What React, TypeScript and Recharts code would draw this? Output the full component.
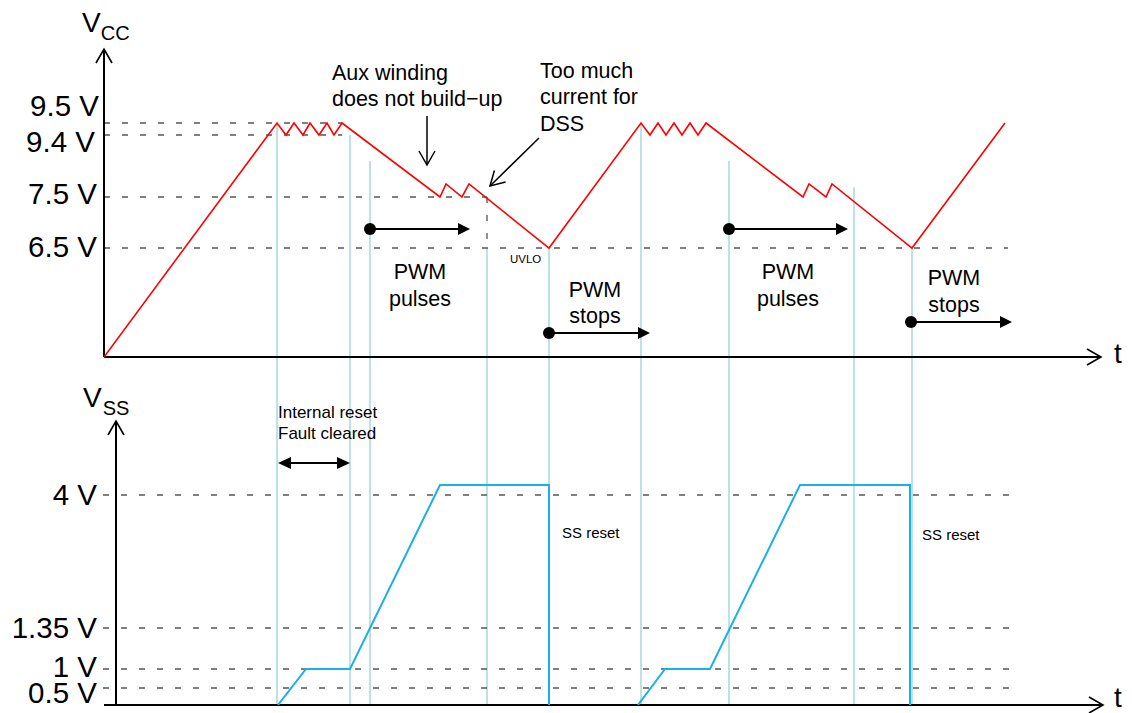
import { LineChart, Line, XAxis, YAxis, ReferenceLine, ReferenceDot } from 'recharts'

const FONT = '"Liberation Sans", Arial, Helvetica, sans-serif'

// schematic time axis, arbitrary units 0..100
const VCC_T = [0, 17.3, 18.2, 19.0, 19.9, 20.6, 21.5, 22.3, 23.0, 23.8, 33.6, 34.2, 35.8, 36.5, 44.5,
  53.7, 54.6, 55.4, 56.2, 57.0, 57.8, 58.6, 59.4, 60.2, 69.9, 70.5, 72.2, 72.8, 80.8, 90.1]
const VCC_V = [0, 9.5, 9.4, 9.5, 9.4, 9.5, 9.4, 9.5, 9.4, 9.5, 7.5, 7.9, 7.5, 7.9, 6.5,
  9.5, 9.4, 9.5, 9.4, 9.5, 9.4, 9.5, 9.4, 9.5, 7.5, 7.9, 7.5, 7.9, 6.5, 9.5]

const VSS_T = [17.4, 20.2, 24.6, 33.6, 44.5, 44.5, 49, 53.4, 56.1, 60.6, 69.6, 80.6, 80.6]
const VSS_V: (number | null)[] = [0, 1, 1, 4.2, 4.2, 0, null, 0, 1, 1, 4.2, 4.2, 0]

// event markers (light blue): time and the Vcc level where they start
const MARK_T = [17.3, 24.6, 26.6, 38.3, 44.5, 53.7, 62.5, 75.0, 80.8]
const MARK_FROM_V = [9.5, 9.4, 8.6, 6.5, 6.5, 9.5, 8.6, 7.8, 6.5]

const VCC_TICKS = [9.5, 9.4, 7.5, 6.5]
const VCC_TICK_LABELS = ['9.5 V', '9.4 V', '7.5 V', '6.5 V']
const VSS_TICKS = [4, 1.35, 1, 0.5]
const VSS_TICK_LABELS = ['4 V', '1.35 V', '1 V', '0.5 V']

// PWM arrows: start / end time, and level (above the Vcc axis)
const PWM_START = [26.6, 44.5, 62.5, 80.7]
const PWM_END = [36.6, 54.6, 74.4, 90.8]

// the drawing is not to scale: the axes are piecewise-linear
const VCC_STOPS_V = [0, 6.5, 7.5, 9.4, 9.5]
const VCC_STOPS_H = [0, 109, 160, 222, 234]
const VSS_STOPS_V = [0, 0.5, 1, 1.35, 4]
const VSS_STOPS_H = [0, 17, 36, 77, 210]
const VCC_BASE = 348

const warp = (sv: number[], sh: number[]) => (v: number) => {
  let i = 0
  while (i < sv.length - 2 && v > sv[i + 1]) i++
  return sh[i] + ((v - sv[i]) * (sh[i + 1] - sh[i])) / (sv[i + 1] - sv[i])
}
const vccH = warp(VCC_STOPS_V, VCC_STOPS_H)
const vssH = warp(VSS_STOPS_V, VSS_STOPS_H)
const vccY = (v: number) => VCC_BASE + vccH(v)
const vssY = (v: number) => vssH(v)

const vccData = VCC_T.map((t, i) => ({ t, y: vccY(VCC_V[i]) }))
const vssData = VSS_T.map((t, i) => ({ t, y: VSS_V[i] == null ? null : vssY(VSS_V[i] as number) }))

const Txt = ({ cx, cy, lines, size = 21.5, anchor = 'start', lh = 26.5 }: any) => (
  <text x={cx} y={cy} fontSize={size} fontFamily={FONT} textAnchor={anchor} fill="#000">
    {lines.map((s: string, i: number) => (
      <tspan key={i} x={cx} dy={i === 0 ? 0 : lh}>{s}</tspan>
    ))}
  </text>
)

const Head = ({ cx, cy, angle, len = 13, half = 7, filled = false, width = 1.5 }: any) => {
  const a = (angle * Math.PI) / 180
  const ux = Math.cos(a)
  const uy = Math.sin(a)
  const bx = cx - len * ux
  const by = cy - len * uy
  const p1 = `${bx - half * uy},${by + half * ux}`
  const p2 = `${bx + half * uy},${by - half * ux}`
  if (filled) return <polygon points={`${p1} ${cx},${cy} ${p2}`} fill="#000" />
  return <polyline points={`${p1} ${cx},${cy} ${p2}`} fill="none" stroke="#000" strokeWidth={width} />
}

const LVL_DX = [2, -2, 0, 0]
const VCC_LBL_DY = [-7, 16.5, 7, 9]
const VSS_LBL_DY = [10, 10, 8, 15]

const seg = (x1: number, y1: number, x2: number, y2: number) => [{ x: x1, y: y1 }, { x: x2, y: y2 }]

const Axis = ({ x1, y1, x2, y2, dir }: any) => (
  <>
    <ReferenceLine segment={seg(x1, y1, x2, y2)} stroke="#000" strokeWidth={2} ifOverflow="visible" />
    <ReferenceDot x={x2} y={y2} ifOverflow="visible"
      shape={(p: any) => <Head {...p} angle={dir} len={14} half={8} width={1.6} />} />
  </>
)

export default function App() {
  const dashed = { stroke: '#555', strokeWidth: 1.3, strokeDasharray: '6 12', ifOverflow: 'visible' as const }
  return (
    <div style={{ position: 'absolute', left: 0, top: 0, width: 1132, height: 713, background: '#fff' }}>
      <LineChart width={1132} height={713} margin={{ top: 45, right: 28, bottom: 8, left: 104 }}>
        <XAxis type="number" dataKey="t" domain={[0, 100]} allowDataOverflow hide />
        <YAxis type="number" domain={[0, 660]} allowDataOverflow hide />

        {/* light blue event markers */}
        {MARK_T.map((t, i) => (
          <ReferenceLine key={`m${i}`} segment={seg(t, vccY(MARK_FROM_V[i]), t, vssY(0))}
            stroke="#a9d7e0" strokeWidth={1.5} ifOverflow="visible" />
        ))}

        {/* Vcc level guides */}
        <ReferenceLine segment={seg(0, vccY(9.5), 23.8, vccY(9.5))} {...dashed} />
        <ReferenceLine segment={seg(0, vccY(9.4), 23.8, vccY(9.4))} {...dashed} />
        <ReferenceLine segment={seg(0, vccY(7.5), 38.3, vccY(7.5))} {...dashed} />
        <ReferenceLine segment={seg(38.3, vccY(7.5), 38.3, vccY(6.5))} {...dashed} />
        <ReferenceLine segment={seg(0, vccY(6.5), 90.4, vccY(6.5))} {...dashed} />
        {VSS_TICKS.map((v, i) => (
          <ReferenceLine key={`g${i}`} segment={seg(-0.1, vssY(v), 90.6, vssY(v))} {...dashed} />
        ))}

        {/* tick labels */}
        {VCC_TICKS.map((v, i) => (
          <ReferenceDot key={`vl${i}`} x={-0.7} y={vccY(v)} ifOverflow="visible"
            shape={(p: any) => <Txt cx={p.cx + LVL_DX[i]} cy={p.cy + VCC_LBL_DY[i]} lines={[VCC_TICK_LABELS[i]]} size={29.5} anchor="end" />} />
        ))}
        {VSS_TICKS.map((v, i) => (
          <ReferenceDot key={`sl${i}`} x={-0.7} y={vssY(v)} ifOverflow="visible"
            shape={(p: any) => <Txt cx={p.cx} cy={p.cy + VSS_LBL_DY[i]} lines={[VSS_TICK_LABELS[i]]} size={29.5} anchor="end" />} />
        ))}

        {/* axes */}
        <Axis x1={0} y1={VCC_BASE} x2={0} y2={656} dir={-90} />
        <Axis x1={0} y1={VCC_BASE} x2={99.7} y2={VCC_BASE} dir={0} />
        <Axis x1={1.2} y1={0} x2={1.2} y2={284} dir={-90} />
        <Axis x1={0} y1={0} x2={99.9} y2={0} dir={0} />
        <ReferenceDot x={101.4} y={342} ifOverflow="visible"
          shape={(p: any) => <Txt {...p} lines={['t']} size={28} anchor="middle" />} />
        <ReferenceDot x={101.4} y={-1.5} ifOverflow="visible"
          shape={(p: any) => <Txt {...p} lines={['t']} size={28} anchor="middle" />} />
        <ReferenceDot x={-2.2} y={673} ifOverflow="visible"
          shape={(p: any) => (
            <text x={p.cx} y={p.cy} fontFamily={FONT} fontSize={28} fill="#000">
              V<tspan fontSize={20} dy={8}>CC</tspan>
            </text>
          )} />
        <ReferenceDot x={-2.1} y={298} ifOverflow="visible"
          shape={(p: any) => (
            <text x={p.cx} y={p.cy} fontFamily={FONT} fontSize={28} fill="#000">
              V<tspan fontSize={20} dx={1} dy={8}>SS</tspan>
            </text>
          )} />

        {/* traces */}
        <Line data={vccData} dataKey="y" type="linear" stroke="#ff0000" strokeWidth={1.6}
          dot={false} activeDot={false} isAnimationActive={false} />
        <Line data={vssData} dataKey="y" type="linear" stroke="#19b1e6" strokeWidth={2}
          dot={false} activeDot={false} isAnimationActive={false} />

        {/* PWM arrows */}
        {PWM_START.map((t, i) => {
          const h = i % 2 === 0 ? 476 : i === 1 ? 372 : 383
          return (
            <g key={`p${i}`}>
              <ReferenceLine segment={seg(t, h, PWM_END[i] - 0.8, h)} stroke="#000" strokeWidth={2} ifOverflow="visible" />
              <ReferenceDot x={t} y={h} r={6} fill="#000" stroke="none" ifOverflow="visible" />
              <ReferenceDot x={PWM_END[i]} y={h} ifOverflow="visible"
                shape={(p: any) => <Head {...p} angle={0} len={12} half={6} filled />} />
            </g>
          )
        })}

        {/* internal reset double arrow */}
        <ReferenceLine segment={seg(17.8, 242, 24.2, 242)} stroke="#000" strokeWidth={2} ifOverflow="visible" />
        <ReferenceDot x={17.4} y={242} ifOverflow="visible"
          shape={(p: any) => <Head {...p} angle={180} len={13} half={6} filled />} />
        <ReferenceDot x={24.6} y={242} ifOverflow="visible"
          shape={(p: any) => <Head {...p} angle={0} len={13} half={6} filled />} />

        {/* callout arrows */}
        <ReferenceLine segment={seg(32.3, 589, 32.3, 540)} stroke="#000" strokeWidth={1.5} ifOverflow="visible" />
        <ReferenceDot x={32.3} y={540} ifOverflow="visible"
          shape={(p: any) => <Head {...p} angle={90} len={14} half={8} />} />
        <ReferenceLine segment={seg(43.5, 567, 38.6, 519)} stroke="#000" strokeWidth={1.5} ifOverflow="visible" />
        <ReferenceDot x={38.6} y={519} ifOverflow="visible"
          shape={(p: any) => <Head {...p} angle={135.6} len={14} half={8} />} />

        {/* notes */}
        <ReferenceDot x={22.8} y={625} ifOverflow="visible"
          shape={(p: any) => <Txt {...p} lines={['Aux winding', 'does not build\u2212up']} lh={26} />} />
        <ReferenceDot x={43.6} y={627.5} ifOverflow="visible"
          shape={(p: any) => <Txt {...p} lines={['Too much', 'current for', 'DSS']} />} />
        <ReferenceDot x={40.6} y={442} ifOverflow="visible"
          shape={(p: any) => <Txt {...p} lines={['UVLO']} size={11.5} />} />
        <ReferenceDot x={31.6} y={426} ifOverflow="visible"
          shape={(p: any) => <Txt {...p} lines={['PWM', 'pulses']} anchor="middle" />} />
        <ReferenceDot x={49.1} y={408.5} ifOverflow="visible"
          shape={(p: any) => <Txt {...p} lines={['PWM', 'stops']} anchor="middle" />} />
        <ReferenceDot x={68.4} y={426} ifOverflow="visible"
          shape={(p: any) => <Txt {...p} lines={['PWM', 'pulses']} anchor="middle" />} />
        <ReferenceDot x={85.0} y={420} ifOverflow="visible"
          shape={(p: any) => <Txt {...p} lines={['PWM', 'stops']} anchor="middle" />} />
        <ReferenceDot x={17.4} y={287} ifOverflow="visible"
          shape={(p: any) => <Txt {...p} lines={['Internal reset', 'Fault cleared']} size={17} lh={21} />} />
        <ReferenceDot x={45.8} y={167} ifOverflow="visible"
          shape={(p: any) => <Txt {...p} lines={['SS reset']} size={15} />} />
        <ReferenceDot x={81.8} y={165} ifOverflow="visible"
          shape={(p: any) => <Txt {...p} lines={['SS reset']} size={15} />} />
      </LineChart>
    </div>
  )
}
